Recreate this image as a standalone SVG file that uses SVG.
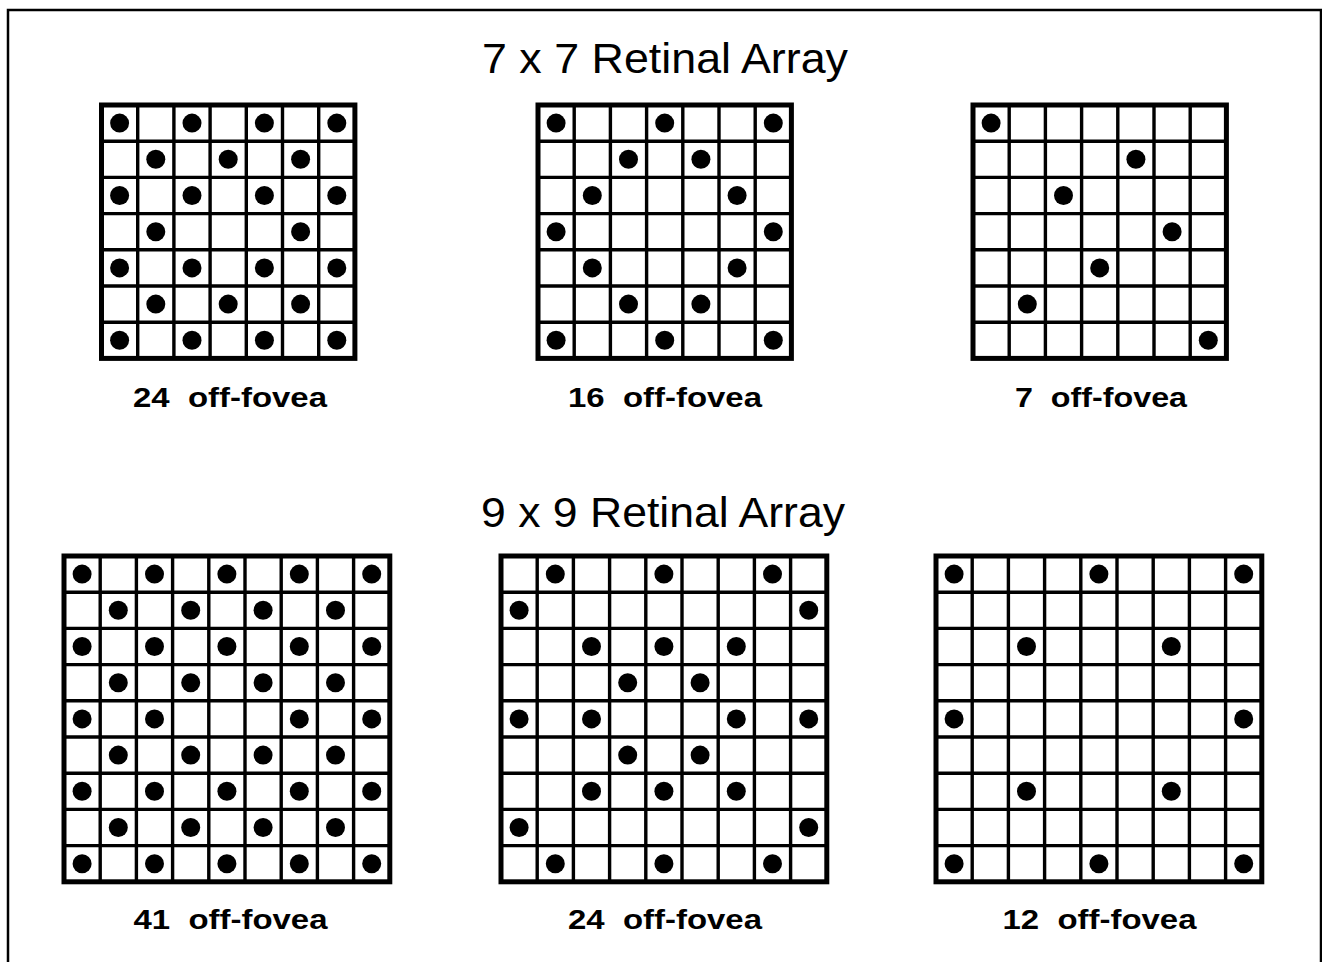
<svg xmlns="http://www.w3.org/2000/svg" xmlns:xlink="http://www.w3.org/1999/xlink" width="1322" height="962" viewBox="0 0 1322 962">
<style>
.title{font-family:"Liberation Sans",Arial,sans-serif;font-size:42px;fill:#000;text-anchor:middle}
.label{font-family:"Liberation Sans",Arial,sans-serif;font-size:28px;font-weight:bold;fill:#000;text-anchor:middle}
.inner{fill:none;stroke:#000;stroke-width:3.4}
.outer{fill:none;stroke:#000;stroke-width:5}
.dot{fill:#000}
</style>
<defs>
<g id="frame7">
<path class="inner" d="M36.2 0V253.4M72.4 0V253.4M108.6 0V253.4M144.8 0V253.4M181 0V253.4M217.2 0V253.4M0 36.2H253.4M0 72.4H253.4M0 108.6H253.4M0 144.8H253.4M0 181H253.4M0 217.2H253.4"/>
<rect class="outer" x="0" y="0" width="253.4" height="253.4"/>
</g>
<g id="frame9">
<path class="inner" d="M36.2 0V325.8M72.4 0V325.8M108.6 0V325.8M144.8 0V325.8M181 0V325.8M217.2 0V325.8M253.4 0V325.8M289.6 0V325.8M0 36.2H325.8M0 72.4H325.8M0 108.6H325.8M0 144.8H325.8M0 181H325.8M0 217.2H325.8M0 253.4H325.8M0 289.6H325.8"/>
<rect class="outer" x="0" y="0" width="325.8" height="325.8"/>
</g>
<circle id="d" r="9.5" class="dot"/>
</defs>
<rect x="0" y="0" width="1322" height="962" fill="#fff"/>
<path d="M8 962V10H1321V962" fill="none" stroke="#000" stroke-width="2.5"/>

<text class="title" x="665" y="73" textLength="366" lengthAdjust="spacingAndGlyphs">7 x 7 Retinal Array</text>
<text class="title" x="663" y="527" textLength="364" lengthAdjust="spacingAndGlyphs">9 x 9 Retinal Array</text>

<g id="grid7-24" transform="translate(101.5,105)">
<use xlink:href="#frame7"/>
<use xlink:href="#d" x="18.1" y="18.1"/><use xlink:href="#d" x="90.5" y="18.1"/><use xlink:href="#d" x="162.9" y="18.1"/><use xlink:href="#d" x="235.3" y="18.1"/>
<use xlink:href="#d" x="54.3" y="54.3"/><use xlink:href="#d" x="126.7" y="54.3"/><use xlink:href="#d" x="199.1" y="54.3"/>
<use xlink:href="#d" x="18.1" y="90.5"/><use xlink:href="#d" x="90.5" y="90.5"/><use xlink:href="#d" x="162.9" y="90.5"/><use xlink:href="#d" x="235.3" y="90.5"/>
<use xlink:href="#d" x="54.3" y="126.7"/><use xlink:href="#d" x="199.1" y="126.7"/>
<use xlink:href="#d" x="18.1" y="162.9"/><use xlink:href="#d" x="90.5" y="162.9"/><use xlink:href="#d" x="162.9" y="162.9"/><use xlink:href="#d" x="235.3" y="162.9"/>
<use xlink:href="#d" x="54.3" y="199.1"/><use xlink:href="#d" x="126.7" y="199.1"/><use xlink:href="#d" x="199.1" y="199.1"/>
<use xlink:href="#d" x="18.1" y="235.3"/><use xlink:href="#d" x="90.5" y="235.3"/><use xlink:href="#d" x="162.9" y="235.3"/><use xlink:href="#d" x="235.3" y="235.3"/>
</g>
<g id="label7-24"><text class="label" x="230" y="407" textLength="194" lengthAdjust="spacingAndGlyphs" xml:space="preserve">24  off-fovea</text></g>

<g id="grid7-16" transform="translate(538,105)">
<use xlink:href="#frame7"/>
<use xlink:href="#d" x="18.1" y="18.1"/><use xlink:href="#d" x="126.7" y="18.1"/><use xlink:href="#d" x="235.3" y="18.1"/>
<use xlink:href="#d" x="90.5" y="54.3"/><use xlink:href="#d" x="162.9" y="54.3"/>
<use xlink:href="#d" x="54.3" y="90.5"/><use xlink:href="#d" x="199.1" y="90.5"/>
<use xlink:href="#d" x="18.1" y="126.7"/><use xlink:href="#d" x="235.3" y="126.7"/>
<use xlink:href="#d" x="54.3" y="162.9"/><use xlink:href="#d" x="199.1" y="162.9"/>
<use xlink:href="#d" x="90.5" y="199.1"/><use xlink:href="#d" x="162.9" y="199.1"/>
<use xlink:href="#d" x="18.1" y="235.3"/><use xlink:href="#d" x="126.7" y="235.3"/><use xlink:href="#d" x="235.3" y="235.3"/>
</g>
<g id="label7-16"><text class="label" x="665" y="407" textLength="194" lengthAdjust="spacingAndGlyphs" xml:space="preserve">16  off-fovea</text></g>

<g id="grid7-7" transform="translate(973,105)">
<use xlink:href="#frame7"/>
<use xlink:href="#d" x="18.1" y="18.1"/>
<use xlink:href="#d" x="162.9" y="54.3"/>
<use xlink:href="#d" x="90.5" y="90.5"/>
<use xlink:href="#d" x="199.1" y="126.7"/>
<use xlink:href="#d" x="126.7" y="162.9"/>
<use xlink:href="#d" x="54.3" y="199.1"/>
<use xlink:href="#d" x="235.3" y="235.3"/>
</g>
<g id="label7-7"><text class="label" x="1101" y="407" textLength="172" lengthAdjust="spacingAndGlyphs" xml:space="preserve">7  off-fovea</text></g>

<g id="grid9-41" transform="translate(64,556)">
<use xlink:href="#frame9"/>
<use xlink:href="#d" x="18.1" y="18.1"/><use xlink:href="#d" x="90.5" y="18.1"/><use xlink:href="#d" x="162.9" y="18.1"/><use xlink:href="#d" x="235.3" y="18.1"/><use xlink:href="#d" x="307.7" y="18.1"/>
<use xlink:href="#d" x="54.3" y="54.3"/><use xlink:href="#d" x="126.7" y="54.3"/><use xlink:href="#d" x="199.1" y="54.3"/><use xlink:href="#d" x="271.5" y="54.3"/>
<use xlink:href="#d" x="18.1" y="90.5"/><use xlink:href="#d" x="90.5" y="90.5"/><use xlink:href="#d" x="162.9" y="90.5"/><use xlink:href="#d" x="235.3" y="90.5"/><use xlink:href="#d" x="307.7" y="90.5"/>
<use xlink:href="#d" x="54.3" y="126.7"/><use xlink:href="#d" x="126.7" y="126.7"/><use xlink:href="#d" x="199.1" y="126.7"/><use xlink:href="#d" x="271.5" y="126.7"/>
<use xlink:href="#d" x="18.1" y="162.9"/><use xlink:href="#d" x="90.5" y="162.9"/><use xlink:href="#d" x="235.3" y="162.9"/><use xlink:href="#d" x="307.7" y="162.9"/>
<use xlink:href="#d" x="54.3" y="199.1"/><use xlink:href="#d" x="126.7" y="199.1"/><use xlink:href="#d" x="199.1" y="199.1"/><use xlink:href="#d" x="271.5" y="199.1"/>
<use xlink:href="#d" x="18.1" y="235.3"/><use xlink:href="#d" x="90.5" y="235.3"/><use xlink:href="#d" x="162.9" y="235.3"/><use xlink:href="#d" x="235.3" y="235.3"/><use xlink:href="#d" x="307.7" y="235.3"/>
<use xlink:href="#d" x="54.3" y="271.5"/><use xlink:href="#d" x="126.7" y="271.5"/><use xlink:href="#d" x="199.1" y="271.5"/><use xlink:href="#d" x="271.5" y="271.5"/>
<use xlink:href="#d" x="18.1" y="307.7"/><use xlink:href="#d" x="90.5" y="307.7"/><use xlink:href="#d" x="162.9" y="307.7"/><use xlink:href="#d" x="235.3" y="307.7"/><use xlink:href="#d" x="307.7" y="307.7"/>
</g>
<g id="label9-41"><text class="label" x="230.5" y="929" textLength="194" lengthAdjust="spacingAndGlyphs" xml:space="preserve">41  off-fovea</text></g>

<g id="grid9-24" transform="translate(501,556)">
<use xlink:href="#frame9"/>
<use xlink:href="#d" x="54.3" y="18.1"/><use xlink:href="#d" x="162.9" y="18.1"/><use xlink:href="#d" x="271.5" y="18.1"/>
<use xlink:href="#d" x="18.1" y="54.3"/><use xlink:href="#d" x="307.7" y="54.3"/>
<use xlink:href="#d" x="90.5" y="90.5"/><use xlink:href="#d" x="162.9" y="90.5"/><use xlink:href="#d" x="235.3" y="90.5"/>
<use xlink:href="#d" x="126.7" y="126.7"/><use xlink:href="#d" x="199.1" y="126.7"/>
<use xlink:href="#d" x="18.1" y="162.9"/><use xlink:href="#d" x="90.5" y="162.9"/><use xlink:href="#d" x="235.3" y="162.9"/><use xlink:href="#d" x="307.7" y="162.9"/>
<use xlink:href="#d" x="126.7" y="199.1"/><use xlink:href="#d" x="199.1" y="199.1"/>
<use xlink:href="#d" x="90.5" y="235.3"/><use xlink:href="#d" x="162.9" y="235.3"/><use xlink:href="#d" x="235.3" y="235.3"/>
<use xlink:href="#d" x="18.1" y="271.5"/><use xlink:href="#d" x="307.7" y="271.5"/>
<use xlink:href="#d" x="54.3" y="307.7"/><use xlink:href="#d" x="162.9" y="307.7"/><use xlink:href="#d" x="271.5" y="307.7"/>
</g>
<g id="label9-24"><text class="label" x="665" y="929" textLength="194" lengthAdjust="spacingAndGlyphs" xml:space="preserve">24  off-fovea</text></g>

<g id="grid9-12" transform="translate(936,556)">
<use xlink:href="#frame9"/>
<use xlink:href="#d" x="18.1" y="18.1"/><use xlink:href="#d" x="162.9" y="18.1"/><use xlink:href="#d" x="307.7" y="18.1"/>
<use xlink:href="#d" x="90.5" y="90.5"/><use xlink:href="#d" x="235.3" y="90.5"/>
<use xlink:href="#d" x="18.1" y="162.9"/><use xlink:href="#d" x="307.7" y="162.9"/>
<use xlink:href="#d" x="90.5" y="235.3"/><use xlink:href="#d" x="235.3" y="235.3"/>
<use xlink:href="#d" x="18.1" y="307.7"/><use xlink:href="#d" x="162.9" y="307.7"/><use xlink:href="#d" x="307.7" y="307.7"/>
</g>
<g id="label9-12"><text class="label" x="1099.5" y="929" textLength="194" lengthAdjust="spacingAndGlyphs" xml:space="preserve">12  off-fovea</text></g>
</svg>
